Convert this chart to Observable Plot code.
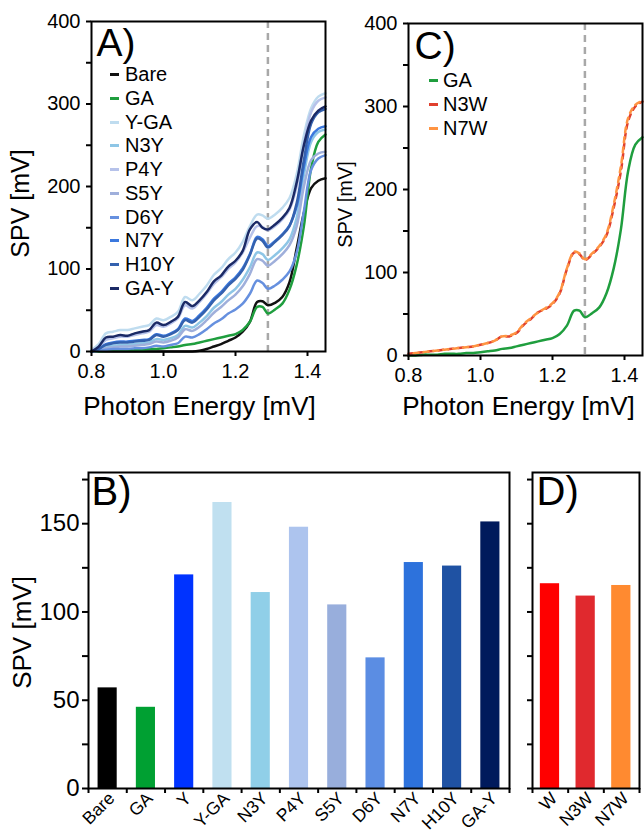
<!DOCTYPE html>
<html>
<head>
<meta charset="utf-8">
<script src="https://cdn.jsdelivr.net/npm/d3@7"></script>
<script src="https://cdn.jsdelivr.net/npm/@observablehq/plot@0.6"></script>
<style>
  body { margin: 0; background: #fff; }
  #root { position: relative; width: 644px; height: 835px; background: #fff; overflow: hidden; }
  .panel { position: absolute; }
  .legend { position: absolute; font-family: 'Liberation Sans', Arial, Helvetica, sans-serif; font-size: 20px; color: #000; }
  .legend .item { position: absolute; white-space: nowrap; line-height: 20px; height: 20px; }
  .legend .sw { position: absolute; width: 9px; height: 3px; top: 9px; }
  .legend .lb { position: absolute; top: 0; }
</style>
</head>
<body>
<div id="root"></div>
<script>
// ---------- DATA ----------
const energy = [0.80,0.82,0.84,0.86,0.88,0.90,0.92,0.94,0.96,0.98,1.00,1.02,1.04,1.06,1.08,1.10,1.12,1.14,1.16,1.18,1.20,1.22,1.24,1.26,1.275,1.29,1.31,1.33,1.35,1.37,1.39,1.41,1.43,1.45];
const markerEnergy = [1.29];

const seriesA = ["Bare","GA","Y-GA","N3Y","P4Y","S5Y","D6Y","N7Y","H10Y","GA-Y"];
const colorsA = ["#111111","#1f9e3e","#bfdcef","#8ec6e6","#b6c2ea","#9fafdb","#6690df","#3b78de","#3461ae","#1b2a66"];
const spvBare = [0,0,0,0,0,0,0,0,0,0,0,0,0,0,0,1,3,6,9,13,17,24,36,60,61,56,59,66,84,125,168,198,207,210];
const spvGA   = [0,0,1,1,1,2,2,2,3,3,4,5,6,8,9,11,13,15,17,19,21,26,36,54,54,46,51,58,75,105,152,222,254,263];
const spvYGA  = [2,9,22,24,26,26,28,30,32,40,38,42,48,66,62,70,80,93,101,112,120,133,152,166,165,161,166,174,186,215,262,295,309,313];
const spvN3Y  = [0,2,6,7,8,8,9,10,11,15,14,16,20,31,29,35,43,53,60,69,76,87,102,120,118,111,117,125,136,162,214,254,266,269];
const spvP4Y  = [1,5,14,16,18,18,20,22,24,32,30,34,40,56,52,60,70,82,90,100,108,120,138,152,151,147,152,160,172,200,252,290,304,308];
const spvS5Y  = [0,1,4,5,6,6,7,8,9,12,11,13,17,27,25,30,38,47,54,62,69,79,94,112,110,104,110,118,129,152,200,232,240,242];
const spvD6Y  = [0,1,2,3,3,3,4,4,5,7,6,8,10,18,17,21,27,34,39,46,51,58,70,86,83,76,80,87,97,120,170,220,234,238];
const spvN7Y  = [0,3,9,11,12,12,13,14,15,21,19,22,27,40,37,44,53,64,72,82,90,101,118,139,136,128,134,142,153,176,224,260,270,273];
const spvH10Y = [0,3,8,10,11,11,12,13,14,20,18,21,26,38,35,42,51,62,70,80,88,99,117,137,134,126,133,141,152,180,232,276,290,294];
const spvGAY  = [0,6,17,18,20,19,22,24,26,35,32,36,42,60,55,62,72,85,92,103,110,122,148,157,150,148,154,162,174,205,250,280,292,297];
const valuesA = [spvBare, spvGA, spvYGA, spvN3Y, spvP4Y, spvS5Y, spvD6Y, spvN7Y, spvH10Y, spvGAY];

const seriesC = ["GA","N3W","N7W"];
const colorsC = ["#1f9e3e","#e0402e","#ff9442"];
const spvN3W = [2,3,4,5,6,7,8,9,10,11,13,15,18,23,23,27,37,44,52,56,62,75,104,124,122,115,122,131,145,178,222,282,300,306];
const spvN7W = [2,3,4,5,6,7,8,9,10,11,13,15,18,23,24,28,38,45,52,57,63,76,105,125,123,116,123,132,147,182,228,286,302,307];
const valuesC = [spvGA, spvN3W, spvN7W];

const barCats   = ["Bare","GA","Y","Y-GA","N3Y","P4Y","S5Y","D6Y","N7Y","H10Y","GA-Y"];
const barVals   = [57,46,121,162,111,148,104,74,128,126,151];
const barColors = ["#000000","#00a032","#0033ff","#c0e0f0","#90cfe8","#adc4ee","#98aedc","#5b8de3","#2d72dc","#1f52a3","#001a5c"];

const barCatsD   = ["W","N3W","N7W"];
const barValsD   = [116,109,115];
const barColorsD = ["#ff0000","#e0292e","#ff8a30"];

const yTicksA = d3.range(0, 401, 50);
const yTicksB = d3.range(0, 176, 25);

// ---------- HELPERS ----------
const FONT = "'Liberation Sans', Arial, Helvetica, sans-serif";
const root = document.getElementById("root");
function place(node, left, top) {
  const d = document.createElement("div");
  d.className = "panel";
  d.style.left = left + "px"; d.style.top = top + "px";
  d.appendChild(node); root.appendChild(d);
}
function longForm(names, colors, values) {
  const out = [];
  names.forEach((s, k) => energy.forEach((e, i) => out.push({s, c: colors[k], e, v: values[k][i]})));
  return out;
}
function legend(names, colors, left, top, step, swLeft, txtLeft) {
  const lg = document.createElement("div");
  lg.className = "legend";
  lg.style.left = left + "px"; lg.style.top = top + "px";
  names.forEach((n, i) => {
    const it = document.createElement("div");
    it.className = "item";
    it.style.top = (i * step) + "px";
    const sw = document.createElement("div"); sw.className = "sw"; sw.style.left = swLeft + "px"; sw.style.background = colors[i];
    const lb = document.createElement("div"); lb.className = "lb"; lb.style.left = txtLeft + "px"; lb.textContent = n;
    it.appendChild(sw); it.appendChild(lb); lg.appendChild(it);
  });
  root.appendChild(lg);
}
function label(txt, anchor, dx, dy, size, rotate) {
  return Plot.text([txt], {text: d => d, frameAnchor: anchor, dx, dy, fontSize: size, rotate: rotate || 0,
    textAnchor: anchor === "top-left" ? "start" : "middle", lineAnchor: "middle"});
}

// ---------- PANEL A ----------
const longA = longForm(seriesA, colorsA, valuesA);
const plotA = Plot.plot({
  width: 330, height: 420, marginLeft: 91, marginRight: 5, marginTop: 21, marginBottom: 69,
  style: {fontFamily: FONT, fontSize: "20px", color: "#000", background: "transparent", overflow: "visible"},
  x: {domain: [0.8, 1.45]},
  y: {domain: [0, 400]},
  color: {type: "identity"},
  marks: [
    Plot.ruleX(markerEnergy, {stroke: "#a8a8a8", strokeWidth: 2.5, strokeDasharray: "7,5"}),
    Plot.line(longA, {x: "e", y: "v", z: "s", stroke: "c", strokeWidth: 2.5, curve: "catmull-rom"}),
    Plot.frame({stroke: "#000", strokeWidth: 2}),
    Plot.axisX({ticks: [0.8, 1.0, 1.2, 1.4], tickFormat: ".1f", tickSize: 5, tickPadding: 7, strokeWidth: 2, label: null}),
    Plot.axisY({ticks: yTicksA, tickFormat: d => d % 100 === 0 ? String(d) : "", tickSize: 5, tickPadding: 6, strokeWidth: 2, label: null}),
    label("SPV [mV]", "left", -71, 17, 25, -90),
    label("Photon Energy [mV]", "bottom", -9, 55, 26),
    label("A)", "top-left", 5, 22, 39)
  ]
});
place(plotA, 0, 0);
legend(seriesA, colorsA, 0, 64, 23.75, 110, 125);

// ---------- PANEL C ----------
const longC = longForm(seriesC, colorsC, valuesC);
const plotC = Plot.plot({
  width: 314, height: 420, marginLeft: 78, marginRight: 2, marginTop: 23, marginBottom: 65,
  style: {fontFamily: FONT, fontSize: "20px", color: "#000", background: "transparent", overflow: "visible"},
  x: {domain: [0.8, 1.45]},
  y: {domain: [0, 400]},
  color: {type: "identity"},
  marks: [
    Plot.ruleX(markerEnergy, {stroke: "#a8a8a8", strokeWidth: 2.5, strokeDasharray: "7,5"}),
    Plot.line(longC.filter(d => d.s === "GA"), {x: "e", y: "v", stroke: "c", strokeWidth: 2.5, curve: "catmull-rom"}),
    Plot.line(longC.filter(d => d.s === "N3W"), {x: "e", y: "v", stroke: "c", strokeWidth: 2.5, strokeDasharray: "5,5", curve: "catmull-rom"}),
    Plot.line(longC.filter(d => d.s === "N7W"), {x: "e", y: "v", stroke: "c", strokeWidth: 2.5, strokeDasharray: "5,5", strokeDashoffset: 5, curve: "catmull-rom"}),
    Plot.frame({stroke: "#000", strokeWidth: 2}),
    Plot.axisX({ticks: [0.8, 1.0, 1.2, 1.4], tickFormat: ".1f", tickSize: 5, tickPadding: 7, strokeWidth: 2, label: null}),
    Plot.axisY({ticks: yTicksA, tickFormat: d => d % 100 === 0 ? String(d) : "", tickSize: 5, tickPadding: 6, strokeWidth: 2, label: null}),
    label("SPV [mV]", "left", -63, 15, 20, -90),
    label("Photon Energy [mV]", "bottom", -7, 51, 26),
    label("C)", "top-left", 6, 23, 39)
  ]
});
place(plotC, 330, 0);
legend(seriesC, colorsC, 0, 70, 24, 429, 443);

// ---------- PANEL B ----------
const barData = barCats.map((c, i) => ({i, c, v: barVals[i], col: barColors[i]}));
const plotB = Plot.plot({
  width: 520, height: 395, marginLeft: 88, marginRight: 11, marginTop: 32, marginBottom: 47,
  style: {fontFamily: FONT, fontSize: "24px", color: "#000", background: "transparent", overflow: "visible"},
  x: {domain: [0, barCats.length]},
  y: {domain: [0, 179]},
  color: {type: "identity"},
  marks: [
    Plot.rectY(barData, {x1: d => d.i + 0.25, x2: d => d.i + 0.75, y: "v", fill: "col"}),
    Plot.frame({stroke: "#000", strokeWidth: 2}),
    Plot.axisX({ticks: d3.range(0, barCats.length + 1), tickFormat: () => "", tickSize: 5, strokeWidth: 2, label: null}),
    Plot.axisX({ticks: d3.range(0.5, barCats.length, 1), tickFormat: t => barCats[Math.floor(t)], tickSize: 0, tickPadding: 7, dx: 4, tickRotate: -45, fontSize: 17.5, label: null}),
    Plot.axisY({ticks: yTicksB, tickFormat: d => d % 50 === 0 ? String(d) : "", tickSize: 6, tickPadding: 3, strokeWidth: 2, label: null}),
    label("SPV [mV]", "left", -66, 2, 26, -90),
    label("B)", "top-left", 3, 20, 40)
  ]
});
place(plotB, 0, 440);

// ---------- PANEL D ----------
const barDataD = barCatsD.map((c, i) => ({i, c, v: barValsD[i], col: barColorsD[i]}));
const plotD = Plot.plot({
  width: 124, height: 395, marginLeft: 12, marginRight: 5, marginTop: 32, marginBottom: 47,
  style: {fontFamily: FONT, fontSize: "24px", color: "#000", background: "transparent", overflow: "visible"},
  x: {domain: [0, barCatsD.length]},
  y: {domain: [0, 179]},
  color: {type: "identity"},
  marks: [
    Plot.rectY(barDataD, {x1: d => d.i + 0.22, x2: d => d.i + 0.76, y: "v", fill: "col"}),
    Plot.frame({stroke: "#000", strokeWidth: 2}),
    Plot.axisX({ticks: d3.range(0, barCatsD.length + 1), tickFormat: () => "", tickSize: 5, strokeWidth: 2, label: null}),
    Plot.axisX({ticks: d3.range(0.5, barCatsD.length, 1), tickFormat: t => barCatsD[Math.floor(t)], tickSize: 0, tickPadding: 7, dx: 4, tickRotate: -45, fontSize: 17.5, label: null}),
    Plot.axisY({ticks: yTicksB, tickFormat: () => "", tickSize: 5, strokeWidth: 2, label: null}),
    label("D)", "top-left", 4, 20, 40)
  ]
});
place(plotD, 520, 440);
</script>
</body>
</html>
